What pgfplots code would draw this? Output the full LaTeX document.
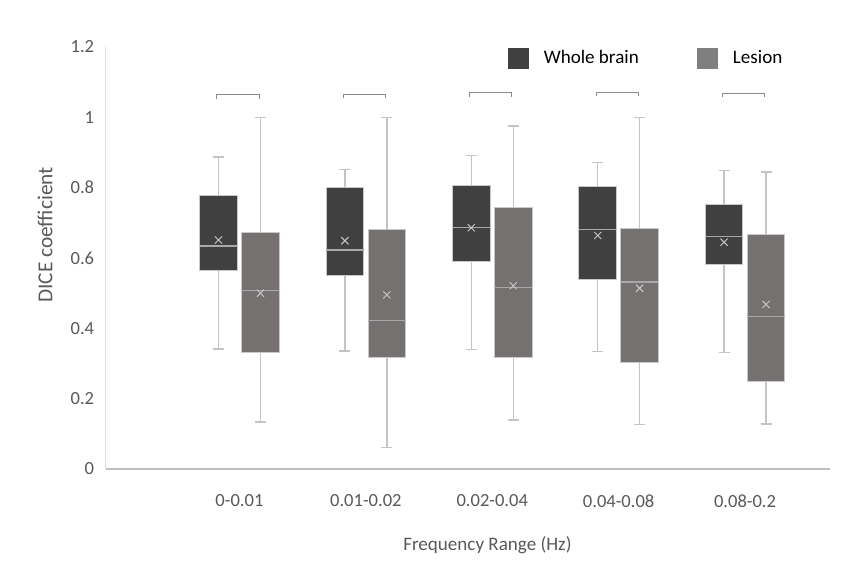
\documentclass[border=0pt]{standalone}
\usepackage{fontspec}
\setmainfont{Carlito}
\usepackage{pgfplots}
\pgfplotsset{compat=1.18}
\usepgfplotslibrary{statistics}

\definecolor{wbfill}{HTML}{404040}
\definecolor{lsfill}{HTML}{767171}
\definecolor{lslegend}{HTML}{7F7F7F}
\definecolor{boxline}{HTML}{C8C8C8}
\definecolor{whisk}{HTML}{C4C4C4}
\definecolor{medc}{HTML}{A8A8A8}
\definecolor{meanc}{HTML}{D0D0D0}
\definecolor{brack}{HTML}{8A8A8A}
\definecolor{textc}{HTML}{595959}

\pgfplotsset{
  bx/.style={draw=boxline, line width=0.7pt,
    boxplot/draw direction=y,
    boxplot/box extend=0.297, boxplot/whisker extend=0.087,
    boxplot/every whisker/.style={draw=whisk, line width=1.1pt},
    boxplot/every median/.style={draw=medc, line width=1pt},
    boxplot/every average/.style={/tikz/mark=x, mark size=3.8pt, draw=meanc, line width=0.8pt}},
  wb/.style={bx, fill=wbfill},
  ls/.style={bx, fill=lsfill},
  brk/.style={draw=brack, line width=0.8pt, mark=none},
}

\begin{document}
\begin{tikzpicture}
\begin{axis}[
    width=543.2pt, height=316.5pt, scale only axis,
    xmin=-0.058, xmax=5.672,
    ymin=0, ymax=1.2,
    clip=false,
    axis x line*=bottom, axis y line*=left,
    x axis line style={draw=black!25, line width=0.8pt},
    y axis line style={draw=black!12, line width=0.8pt},
    major tick length=0pt,
    xtick={1,2,3,4,5},
    xticklabels={0-0.01,0.01-0.02,0.02-0.04,0.04-0.08,0.08-0.2},
    ytick={0,0.2,0.4,0.6,0.8,1,1.2},
    yticklabels={0,0.2,0.4,0.6,0.8,1,1.2},
    ticklabel style={font=\fontsize{13.9}{16}\selectfont, text=textc, inner sep=0pt},
    xticklabel style={yshift=-19pt},
    yticklabel style={xshift=-8.5pt},
    xlabel={Frequency Range (Hz)},
    ylabel={DICE coefficient},
    xlabel style={font=\fontsize{14.3}{17}\selectfont, text=textc,
      at={(axis description cs:0.527,-0.18)}, anchor=center},
    ylabel style={font=\fontsize{16}{19}\selectfont, text=textc,
      at={(axis description cs:-0.0838,0.5545)}, anchor=center},
    legend style={at={(rel axis cs:0.5554,0.974)}, anchor=west, draw=none, fill=none,
      font=\fontsize{14.3}{17}\selectfont, text=black, inner sep=0pt,
      nodes={inner sep=0pt},
      /tikz/every odd column/.append style={column sep=11.25pt},
      /tikz/every even column/.append style={column sep=44pt}},
    legend columns=2,
]
% picture extent
\path (rel axis cs:-0.146,-0.2299) rectangle (rel axis cs:1.0387,1.1114);

\addlegendimage{legend image code/.code={\fill[wbfill] (0pt,-7.5pt) rectangle (15pt,7.5pt);}}
\addlegendentry{Whole brain}
\addlegendimage{legend image code/.code={\fill[lslegend] (0pt,-7.5pt) rectangle (15pt,7.5pt);}}
\addlegendentry{Lesion}

% Whole brain
\addplot[wb, boxplot prepared={draw position=0.834, lower whisker=0.341, lower quartile=0.565, median=0.634, upper quartile=0.777, upper whisker=0.887, average=0.651}] coordinates {};
\addplot[wb, boxplot prepared={draw position=1.834, lower whisker=0.335, lower quartile=0.551, median=0.623, upper quartile=0.801, upper whisker=0.852, average=0.649}] coordinates {};
\addplot[wb, boxplot prepared={draw position=2.834, lower whisker=0.340, lower quartile=0.590, median=0.687, upper quartile=0.805, upper whisker=0.891, average=0.686}] coordinates {};
\addplot[wb, boxplot prepared={draw position=3.834, lower whisker=0.334, lower quartile=0.540, median=0.681, upper quartile=0.803, upper whisker=0.871, average=0.664}] coordinates {};
\addplot[wb, boxplot prepared={draw position=4.834, lower whisker=0.332, lower quartile=0.583, median=0.662, upper quartile=0.751, upper whisker=0.849, average=0.645}] coordinates {};

% Lesion
\addplot[ls, boxplot prepared={draw position=1.166, lower whisker=0.134, lower quartile=0.331, median=0.508, upper quartile=0.673, upper whisker=1.000, average=0.500}] coordinates {};
\addplot[ls, boxplot prepared={draw position=2.166, lower whisker=0.061, lower quartile=0.318, median=0.422, upper quartile=0.680, upper whisker=1.000, average=0.495}] coordinates {};
\addplot[ls, boxplot prepared={draw position=3.166, lower whisker=0.139, lower quartile=0.316, median=0.517, upper quartile=0.745, upper whisker=0.976, average=0.521}] coordinates {};
\addplot[ls, boxplot prepared={draw position=4.166, lower whisker=0.127, lower quartile=0.302, median=0.532, upper quartile=0.684, upper whisker=1.000, average=0.514}] coordinates {};
\addplot[ls, boxplot prepared={draw position=5.166, lower whisker=0.128, lower quartile=0.248, median=0.433, upper quartile=0.667, upper whisker=0.844, average=0.468}] coordinates {};

% brackets
\addplot[brk] coordinates {(0.822,1.053) (0.822,1.064) (1.155,1.064) (1.155,1.053)};
\addplot[brk] coordinates {(1.822,1.054) (1.822,1.065) (2.155,1.065) (2.155,1.054)};
\addplot[brk] coordinates {(2.822,1.059) (2.822,1.070) (3.155,1.070) (3.155,1.059)};
\addplot[brk] coordinates {(3.822,1.060) (3.822,1.071) (4.155,1.071) (4.155,1.060)};
\addplot[brk] coordinates {(4.822,1.057) (4.822,1.068) (5.155,1.068) (5.155,1.057)};
\end{axis}
\end{tikzpicture}
\end{document}
